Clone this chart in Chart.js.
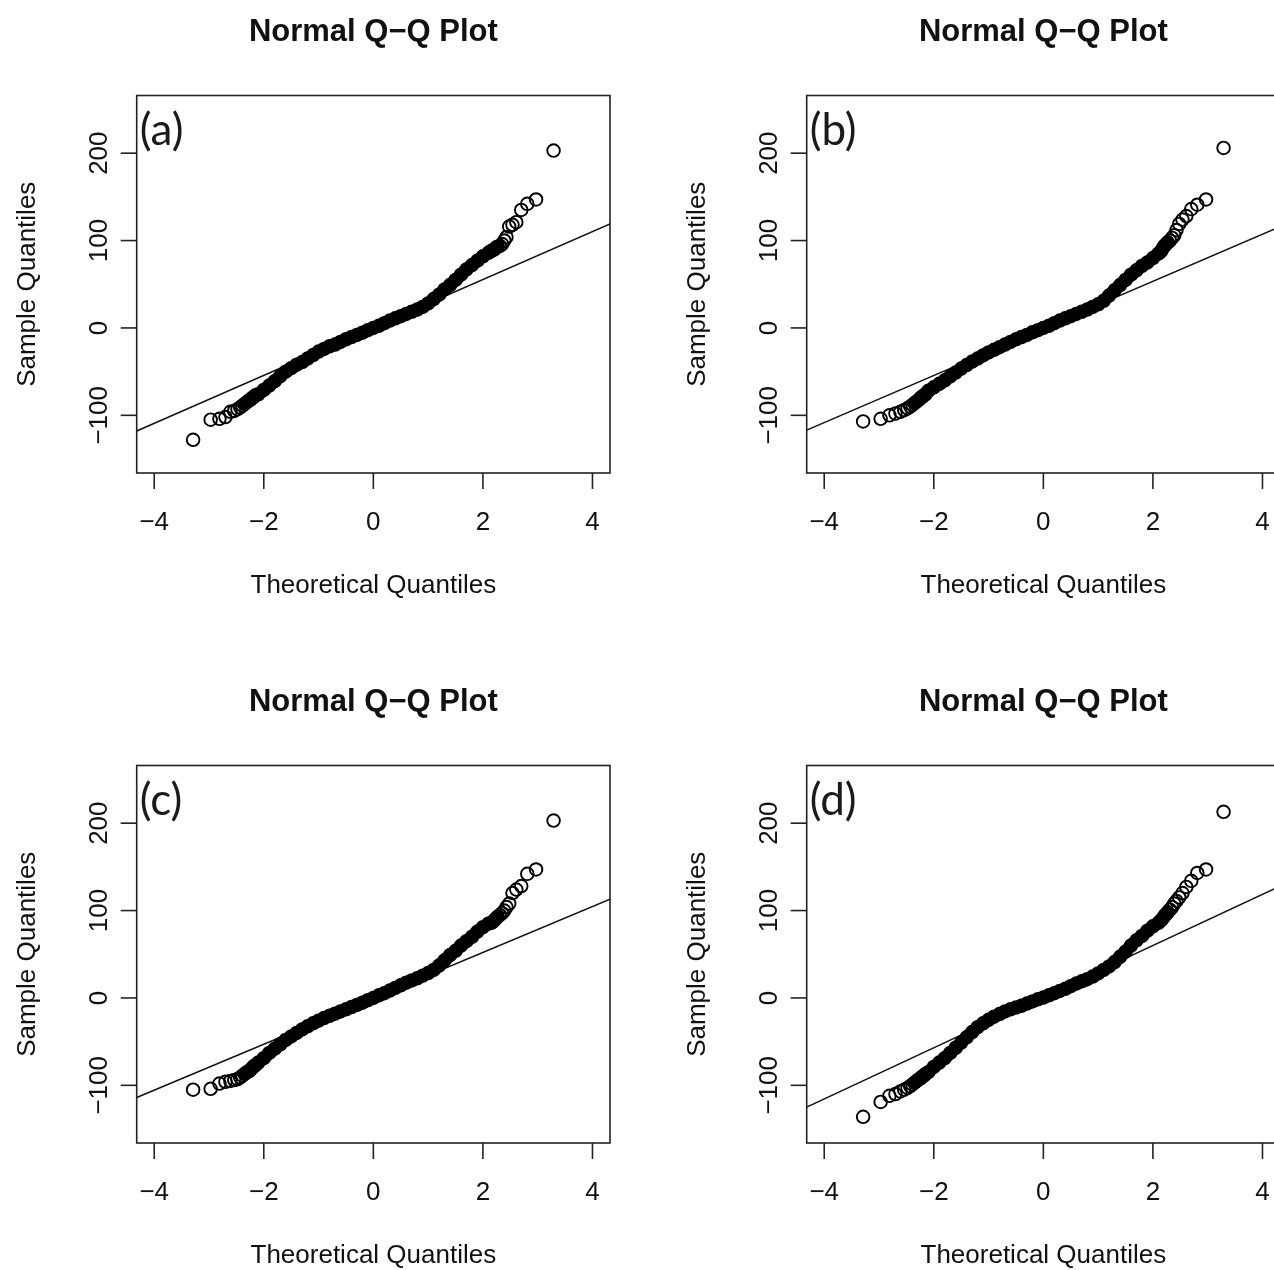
<!DOCTYPE html>
<html>
<head>
<meta charset="utf-8">
<script src="https://cdn.jsdelivr.net/npm/chart.js@4.4.1/dist/chart.umd.min.js"></script>
<style>
  html, body { margin: 0; padding: 0; background: #fff; }
  body { width: 1274px; height: 1270px; overflow: hidden; position: relative; }
  .panel { position: absolute; width: 670px; height: 670px; }
</style>
</head>
<body>
<div class="panel" style="left:0;top:0"><canvas id="qqA" width="670" height="670"></canvas></div>
<div class="panel" style="left:670px;top:0"><canvas id="qqB" width="670" height="670"></canvas></div>
<div class="panel" style="left:0;top:670px"><canvas id="qqC" width="670" height="670"></canvas></div>
<div class="panel" style="left:670px;top:670px"><canvas id="qqD" width="670" height="670"></canvas></div>
<script>
// theoretical quantiles (shared by all four panels)
const theoX = [
  -3.29, -2.97, -2.81, -2.70, -2.61, -2.54, -2.48, -2.43, -2.39, -2.35, -2.31, -2.27, -2.24, -2.21, -2.18, -2.15,
  -2.1, -2.0, -1.9, -1.8, -1.7, -1.6, -1.5, -1.4, -1.3, -1.2, -1.1, -1.0, -0.9, -0.8, -0.7, -0.6, -0.5, -0.4, -0.3, -0.2, -0.1,
  0, 0.1, 0.2, 0.3, 0.4, 0.5, 0.6, 0.7, 0.8, 0.9, 1.0, 1.1, 1.2, 1.3, 1.4, 1.5, 1.6, 1.7, 1.8, 1.9, 2.0, 2.1,
  2.15, 2.18, 2.21, 2.24, 2.27, 2.31, 2.35, 2.39, 2.43, 2.48, 2.54, 2.61, 2.70, 2.81, 2.97, 3.29
];

// sample quantiles
const sampleA = [
  -128, -105, -104, -102, -96, -95, -93, -91, -89, -87, -85, -83, -82, -80, -79, -77,
  -76, -71, -66, -61, -55, -50, -46, -42, -39, -35, -31, -27, -24, -21, -19, -16, -13, -10.5, -8, -5.5, -2.5,
  0, 2.5, 5.5, 8.5, 11, 13.5, 16, 18.5, 21, 24, 28, 33, 38, 44, 49, 55, 61, 67, 72, 77, 82, 86,
  88, 89, 90, 92, 93, 94, 96, 100, 104, 116, 118, 121, 135, 142, 147, 203
];
const sampleB = [
  -107, -104, -100, -98, -96, -94, -92, -90, -88, -86, -84, -82, -80, -79, -77, -76,
  -72, -68, -64, -60, -55.5, -51, -46.5, -42.5, -38.5, -35, -31.5, -28, -25, -22, -19, -16, -13, -10.5, -8, -5, -2.5,
  0, 2.5, 5.5, 8.5, 11, 13.5, 16, 18.5, 21, 24, 27, 31, 37, 43, 49, 55, 61, 66, 71, 75, 80, 85,
  88, 91, 94, 96, 98, 100, 103, 106, 112, 119, 124, 128, 136, 141, 147, 206
];
const sampleC = [
  -105, -104, -98, -96, -95, -94, -93, -91, -89, -87, -85, -84, -82, -80, -78, -77,
  -74, -69, -63, -58, -53, -48, -44, -40, -36, -32.5, -29, -26, -23, -20.5, -18, -15.5, -13, -10.5, -8, -5.5, -2.5,
  0, 3, 5.5, 8.5, 11.5, 14.5, 17.5, 20, 22.5, 25.5, 28.5, 32, 37, 43, 49, 54, 60, 65, 70, 76, 81, 85,
  86, 87, 89, 91, 93, 95, 97, 100, 104, 108, 120, 124, 128, 142, 147, 203
];
const sampleD = [
  -136, -119, -112, -110, -107, -105, -103, -101, -99, -97, -95, -93, -92, -90, -89, -87,
  -85, -79, -74, -69, -63, -57, -51, -45, -39, -33.5, -29, -25, -21.5, -18.5, -15.5, -13, -11, -9, -6.5, -4, -1.5,
  0.5, 3, 5.5, 8, 10.5, 13.5, 16.5, 19, 21.5, 24.5, 28, 32, 36, 41, 47, 53, 60, 66, 71, 77, 82, 86,
  89, 91, 94, 96, 98, 101, 104, 108, 111, 115, 120, 127, 134, 143, 147, 213
];

// qq reference lines (ends at the plot edges)
const lineX = [-4.32, 4.32];
const lineA = [-118, 119];
const lineB = [-117, 116];
const lineC = [-114, 113];
const lineD = [-125, 128];

const xTicks = [-4, -2, 0, 2, 4];
const yTicks = [-100, 0, 100, 200];
const panelTags = ['(a)', '(b)', '(c)', '(d)'];
const titleText = 'Normal Q\u2212Q Plot';
const xTitle = 'Theoretical Quantiles';
const yTitle = 'Sample Quantiles';

const FONT = '"Liberation Sans", Arial, Helvetica, sans-serif';

function fmt(v) {
  return v < 0 ? '\u2212' + Math.abs(v) : String(v);
}

// R style box, ticks and labels
const rAxes = {
  id: 'rAxes',
  afterDatasetsDraw(chart, args, opts) {
    const { ctx, chartArea: a, scales: { x, y } } = chart;
    ctx.save();
    ctx.strokeStyle = '#222';
    ctx.lineWidth = 1.6;
    ctx.strokeRect(a.left, a.top, a.right - a.left, a.bottom - a.top);

    ctx.fillStyle = '#111';
    ctx.font = '26px ' + FONT;
    ctx.textAlign = 'center';
    ctx.textBaseline = 'middle';

    xTicks.forEach(v => {
      const px = x.getPixelForValue(v);
      ctx.beginPath();
      ctx.moveTo(px, a.bottom);
      ctx.lineTo(px, a.bottom + 16);
      ctx.stroke();
      ctx.fillText(fmt(v), px, a.bottom + 50);
    });

    yTicks.forEach(v => {
      const py = y.getPixelForValue(v);
      ctx.beginPath();
      ctx.moveTo(a.left - 16, py);
      ctx.lineTo(a.left, py);
      ctx.stroke();
      ctx.save();
      ctx.translate(a.left - 37, py);
      ctx.rotate(-Math.PI / 2);
      ctx.fillText(fmt(v), 0, 0);
      ctx.restore();
    });

    const cx = (a.left + a.right) / 2;
    const cy = (a.top + a.bottom) / 2;
    ctx.fillText(xTitle, cx, a.bottom + 113);
    ctx.save();
    ctx.translate(a.left - 109, cy);
    ctx.rotate(-Math.PI / 2);
    ctx.fillText(yTitle, 0, 0);
    ctx.restore();

    ctx.font = 'bold 31px ' + FONT;
    ctx.fillText(titleText, cx, a.top - 63);

    ctx.font = '44px Lato, "Open Sans", sans-serif';
    ctx.textAlign = 'left';
    ctx.fillStyle = '#1a1a1a';
    ctx.fillText(opts.tag, a.left + 3, a.top + 35);
    ctx.restore();
  }
};

function makePanel(id, tag, sample, line) {
  const points = theoX.map((v, i) => ({ x: v, y: sample[i] }));
  const band = points.filter(p => p.x >= -2.35 && p.x <= 2.27);
  new Chart(document.getElementById(id), {
    type: 'scatter',
    data: {
      datasets: [
        {
          data: points,
          showLine: false,
          pointStyle: 'circle',
          pointRadius: 6.3,
          pointBorderWidth: 1.9,
          pointBorderColor: '#000',
          pointBackgroundColor: 'rgba(0,0,0,0)'
        },
        {
          data: band,
          showLine: true,
          borderColor: '#000',
          borderWidth: 12.5,
          borderCapStyle: 'round',
          borderJoinStyle: 'round',
          pointRadius: 0
        },
        {
          data: lineX.map((v, i) => ({ x: v, y: line[i] })),
          showLine: true,
          borderColor: '#111',
          borderWidth: 1.5,
          pointRadius: 0
        }
      ]
    },
    options: {
      responsive: false,
      animation: false,
      events: [],
      layout: { padding: { left: 136.7, top: 95.5, right: 60, bottom: 197 } },
      plugins: {
        legend: { display: false },
        tooltip: { enabled: false },
        rAxes: { tag: tag }
      },
      scales: {
        x: { type: 'linear', min: -4.32, max: 4.32, display: false },
        y: { type: 'linear', min: -166, max: 266, display: false }
      }
    },
    plugins: [rAxes]
  });
}

makePanel('qqA', panelTags[0], sampleA, lineA);
makePanel('qqB', panelTags[1], sampleB, lineB);
makePanel('qqC', panelTags[2], sampleC, lineC);
makePanel('qqD', panelTags[3], sampleD, lineD);
</script>
</body>
</html>
